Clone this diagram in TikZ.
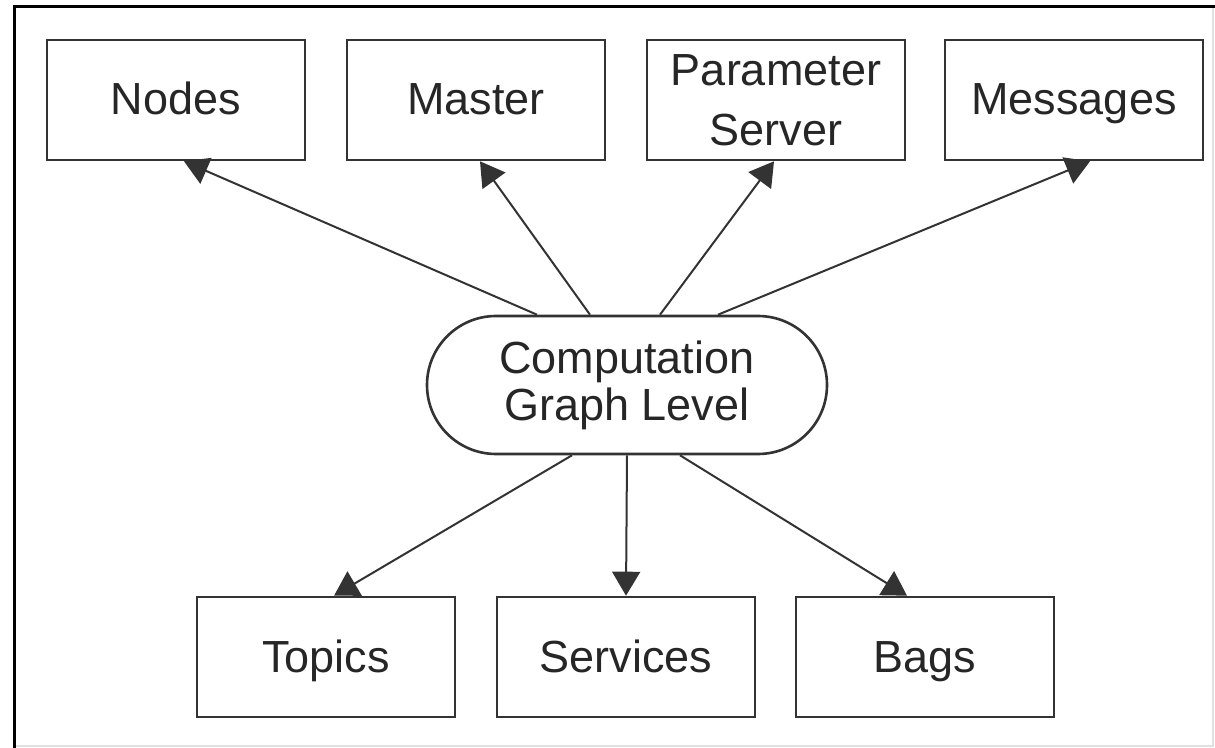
\documentclass[tikz,border=0pt]{standalone}
\usepackage{fontspec}
\setmainfont{Liberation Sans}
\usetikzlibrary{arrows.meta,shapes.misc}

\begin{document}
\begin{tikzpicture}[x=0.5pt,y=-0.5pt,
  box/.style={draw=black!80,line width=1.3pt,minimum width=129pt,minimum height=60pt,
    inner sep=0pt,text=black!85,align=center,font=\fontsize{22.5}{30}\selectfont},
  onebox/.style={box,text height=16pt,text depth=1pt},
  level/.style={box,rounded rectangle,minimum width=200pt,minimum height=69pt,
    font=\fontsize{22.5}{23.5}\selectfont},
  link/.style={draw=black!80,line width=1pt,-{Triangle[length=12pt,width=14pt]}}]
  \useasboundingbox (0,0) rectangle (1215,748);
  \draw[black!12,line width=0.8pt] (1213,7) -- (1213,746) -- (14,746);
  \draw[black,line width=1.5pt] (14,748) -- (14,7) -- (1215,7);

  \node[onebox] (nodes) at (176,100) {Nodes};
  \node[onebox] (master) at (476,100) {Master};
  \node[box] (param) at (776,100) {Parameter\\Server};
  \node[onebox] (msgs) at (1074,100) {Messages};

  \node[level] (cgl) at (627,385) {Computation\\Graph Level};

  \node[onebox] (topics) at (326,657) {Topics};
  \node[onebox] (services) at (626,657) {Services};
  \node[onebox] (bags) at (925,657) {Bags};

  \draw[link] ([xshift=-45pt]cgl.north) -- ([xshift=4pt]nodes.south);
  \draw[link] ([xshift=-18.5pt]cgl.north) -- ([xshift=2pt]master.south);
  \draw[link] ([xshift=16.5pt]cgl.north) -- ([xshift=-1pt]param.south);
  \draw[link] ([xshift=45.5pt]cgl.north) -- ([xshift=8pt]msgs.south);

  \draw[link] ([xshift=-27.5pt]cgl.south) -- ([xshift=4pt]topics.north);
  \draw[link] (cgl.south) -- (services.north);
  \draw[link] ([xshift=26.5pt]cgl.south) -- ([xshift=-9pt]bags.north);
\end{tikzpicture}
\end{document}
